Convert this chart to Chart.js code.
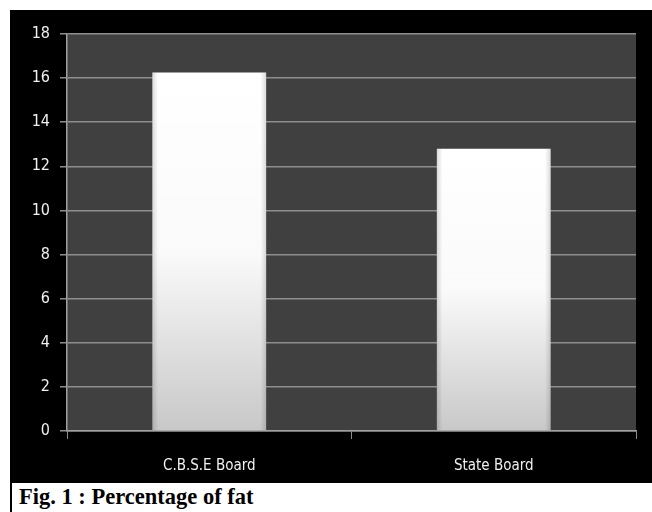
<!DOCTYPE html>
<html>
<head>
<meta charset="utf-8">
<script src="https://cdn.jsdelivr.net/npm/chart.js@4/dist/chart.umd.min.js"></script>
<style>
  html, body { margin: 0; padding: 0; background: #ffffff; width: 652px; height: 512px; overflow: hidden; }
  #frame { position: absolute; left: 12px; top: 10px; width: 640px; height: 473px; background: #000000; }
  #border { position: absolute; left: 10px; top: 10px; width: 2px; height: 502px; background: #000000; }
  #caption { position: absolute; left: 19px; top: 483px; font-family: "Liberation Serif", "Times New Roman", serif; font-weight: bold; font-size: 22.5px; color: #000; line-height: 27px; white-space: nowrap; }
</style>
</head>
<body>
<div id="border"></div>
<div id="frame"><canvas id="c" width="640" height="473"></canvas></div>
<div id="caption">Fig. 1 : Percentage of fat</div>
<script>
const categories = ["C.B.S.E Board", "State Board"];
const fatValues = [16.25, 12.8];
const yMin = 0;
const yMax = 18;
const yStep = 2;

const plotBg = {
  id: 'plotBg',
  beforeDraw(chart) {
    const a = chart.chartArea;
    const ctx = chart.ctx;
    ctx.save();
    ctx.fillStyle = '#404040';
    ctx.fillRect(a.left, a.top, a.right - a.left, a.bottom - a.top);
    ctx.restore();
  }
};

const barShade = {
  id: 'barShade',
  afterDatasetsDraw(chart) {
    const ctx = chart.ctx;
    const meta = chart.getDatasetMeta(0);
    meta.data.forEach(bar => {
      const p = bar.getProps(['x', 'y', 'base', 'width'], true);
      const l = p.x - p.width / 2, r = p.x + p.width / 2;
      const g = ctx.createLinearGradient(l, 0, r, 0);
      g.addColorStop(0, 'rgba(0,0,0,0.14)');
      g.addColorStop(0.05, 'rgba(0,0,0,0.0)');
      g.addColorStop(0.95, 'rgba(0,0,0,0.0)');
      g.addColorStop(1, 'rgba(0,0,0,0.14)');
      ctx.save();
      ctx.fillStyle = g;
      ctx.fillRect(l, p.y, p.width, p.base - p.y);
      ctx.restore();
    });
  }
};

const tickFont = '"DejaVu Sans Condensed", "Liberation Sans Narrow", sans-serif';

new Chart(document.getElementById('c'), {
  type: 'bar',
  data: {
    labels: categories,
    datasets: [{
      data: fatValues,
      backgroundColor(context) {
        const chart = context.chart;
        const ys = chart.scales && chart.scales.y;
        if (!chart.chartArea || !ys) return '#f4f4f4';
        const v = context.raw;
        const top = ys.getPixelForValue(v);
        const bot = ys.getPixelForValue(0);
        const g = chart.ctx.createLinearGradient(0, top, 0, bot);
        g.addColorStop(0, '#ffffff');
        g.addColorStop(0.5, '#fafafa');
        g.addColorStop(1, '#c8c8c8');
        return g;
      },
      borderWidth: 0,
      barPercentage: 0.8,
      categoryPercentage: 0.5
    }]
  },
  options: {
    responsive: false,
    animation: false,
    devicePixelRatio: 1,
    layout: { padding: { top: 24, right: 16, left: 0, bottom: 0 } },
    plugins: { legend: { display: false }, tooltip: { enabled: false } },
    scales: {
      x: {
        offset: true,
        grid: { offset: true, drawOnChartArea: false, drawTicks: true, tickLength: 8, color: '#8c8c8c' },
        border: { color: '#a0a0a0', width: 1.5 },
        ticks: { color: '#f0f0f0', padding: 18, font: { family: tickFont, size: 15 } },
        afterFit(scale) { scale.height = 52; }
      },
      y: {
        min: yMin,
        max: yMax,
        ticks: { stepSize: yStep, color: '#f0f0f0', padding: 10, font: { family: tickFont, size: 16 } },
        grid: { color: '#8e8e8e', lineWidth: 1.5, tickLength: 7 },
        border: { color: '#a0a0a0', width: 1.5 },
        afterFit(scale) { scale.width = 55; }
      }
    }
  },
  plugins: [plotBg, barShade]
});
</script>
</body>
</html>
